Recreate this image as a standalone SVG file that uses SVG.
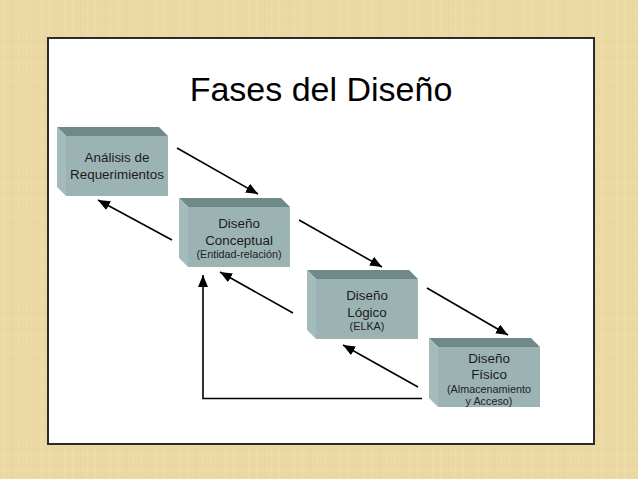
<svg xmlns="http://www.w3.org/2000/svg" width="638" height="479" viewBox="0 0 638 479">
  <defs>
    <pattern id="parch" x="0" y="0" width="23" height="17" patternUnits="userSpaceOnUse">
      <rect width="23" height="17" fill="#ECD8A3"/>
      <rect x="3" y="0" width="1" height="17" fill="#F2E2B4" opacity="0.5"/>
      <rect x="11" y="0" width="2" height="17" fill="#E5D09A" opacity="0.35"/>
      <rect x="18" y="0" width="1" height="17" fill="#F3E4B9" opacity="0.4"/>
      <rect x="0" y="6" width="23" height="1" fill="#E6D29B" opacity="0.3"/>
      <rect x="0" y="12" width="23" height="1" fill="#F2E3B7" opacity="0.35"/>
    </pattern>
    <marker id="ah" markerUnits="userSpaceOnUse" markerWidth="14" markerHeight="12" refX="12" refY="5" orient="auto">
      <path d="M0,0 L12,5 L0,10 Z" fill="#000"/>
    </marker>
  </defs>
  <style>
    .front { fill: #9BB3B3; }
    .top { fill: #6F8888; }
    .side { fill: #A3BBBB; }
    .t { font-family: "Liberation Sans", Arial, sans-serif; font-size: 13.4px; fill: #1b1b1b; text-anchor: middle; }
    .s { font-family: "Liberation Sans", Arial, sans-serif; font-size: 10.8px; fill: #222; text-anchor: middle; }
    .title { font-family: "Liberation Sans", Arial, sans-serif; font-size: 34px; fill: #000; text-anchor: middle; }
    .c { fill: none; stroke: #000; stroke-width: 1.6; marker-end: url(#ah); }
  </style>

  <rect width="638" height="479" fill="url(#parch)"/>
  <rect x="49" y="39" width="546" height="406" fill="#7a6a4a" opacity="0.35"/>
  <rect x="48" y="38" width="546" height="406" fill="#FFFFFF" stroke="#2B2B2B" stroke-width="2"/>

  <text class="title" x="321" y="101">Fases del Diseño</text>

  <g id="analisis">
    <polygon class="top" points="57,127 159,127 168,136 66,136"/>
    <polygon class="side" points="57,127 66,136 66,196 57,187"/>
    <rect class="front" x="66" y="136" width="102" height="60"/>
    <text class="t" x="117" y="162">Análisis de</text>
    <text class="t" x="117" y="178.5">Requerimientos</text>
  </g>

  <g id="conceptual">
    <polygon class="top" points="179,198 281,198 290,207 188,207"/>
    <polygon class="side" points="179,198 188,207 188,267 179,258"/>
    <rect class="front" x="188" y="207" width="102" height="60"/>
    <text class="t" x="239" y="228">Diseño</text>
    <text class="t" x="239" y="244.5">Conceptual</text>
    <text class="s" x="239" y="257.5">(Entidad-relación)</text>
  </g>

  <g id="logico">
    <polygon class="top" points="307,270 409,270 418,279 316,279"/>
    <polygon class="side" points="307,270 316,279 316,339 307,330"/>
    <rect class="front" x="316" y="279" width="102" height="60"/>
    <text class="t" x="367" y="300">Diseño</text>
    <text class="t" x="367" y="317">Lógico</text>
    <text class="s" x="367" y="330">(ELKA)</text>
  </g>

  <g id="fisico">
    <polygon class="top" points="429,338 531,338 540,347 438,347"/>
    <polygon class="side" points="429,338 438,347 438,407 429,398"/>
    <rect class="front" x="438" y="347" width="102" height="60"/>
    <text class="t" x="489" y="363">Diseño</text>
    <text class="t" x="489" y="378.5">Físico</text>
    <text class="s" x="489" y="393">(Almacenamiento</text>
    <text class="s" x="489" y="405">y Acceso)</text>
  </g>

  <g id="connectors">
    <line class="c" x1="177" y1="148" x2="258" y2="194"/>
    <line class="c" x1="172" y1="240" x2="98" y2="200"/>
    <line class="c" x1="299" y1="220" x2="382" y2="267"/>
    <line class="c" x1="293" y1="313" x2="220" y2="272"/>
    <line class="c" x1="427" y1="288" x2="508" y2="335"/>
    <line class="c" x1="418" y1="387" x2="343" y2="345"/>
    <polyline class="c" points="422,398.5 203,398.5 203,275"/>
  </g>
</svg>
